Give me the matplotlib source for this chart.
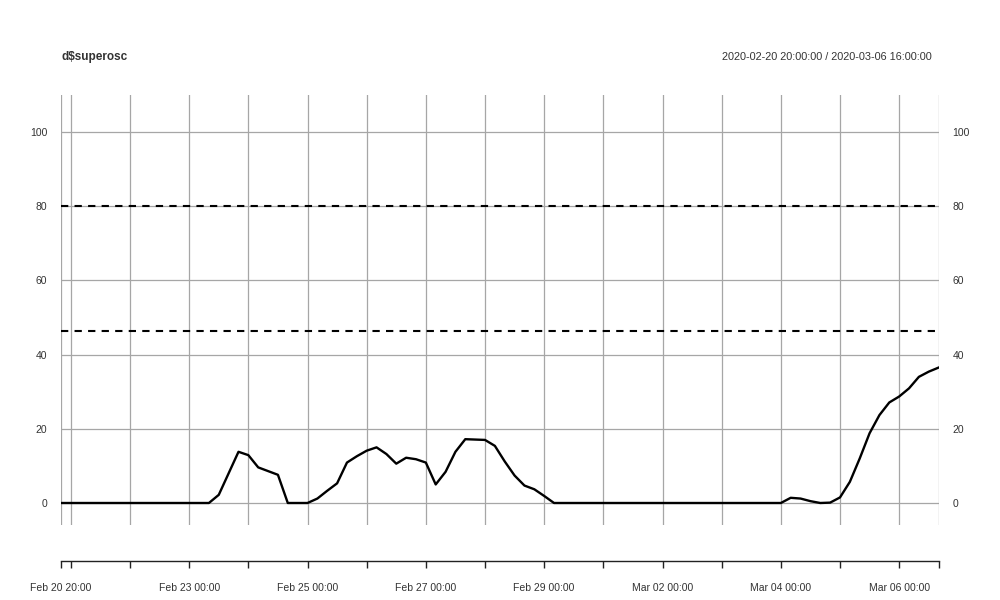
import matplotlib
matplotlib.use('Agg')
import matplotlib.pyplot as plt
import matplotlib.dates as mdates
import pandas as pd
import numpy as np

plt.rcParams['font.family'] = ['Liberation Sans', 'DejaVu Sans']

# 4-hourly series, 2020-02-20 20:00 -> 2020-03-06 16:00
times = pd.date_range('2020-02-20 20:00', '2020-03-06 16:00', freq='4h')
superosc = ([0.0] * 16 +
            [2.2, 8.0, 13.8, 12.9, 9.6, 8.6, 7.6, 0.0, 0.0, 0.0,
             1.2, 3.3, 5.3, 10.9, 12.6, 14.1, 15.0, 13.2, 10.6, 12.2,
             11.8, 10.9, 5.0, 8.4, 13.8, 17.2, 17.1, 17.0, 15.4, 11.2,
             7.4, 4.7, 3.7, 1.9] +
            [0.0] * 24 +
            [1.4, 1.2, 0.5, 0.0, 0.1, 1.5, 5.7, 12.0, 18.8, 23.7,
             27.1, 28.7, 30.9, 34.0, 35.4, 36.5])
levels = [80, 46.4]
y_ticks = [0, 20, 40, 60, 80, 100]

title = 'd$superosc'
range_label = '2020-02-20 20:00:00 / 2020-03-06 16:00:00'

grid_col = '#a6a6a6'
text_col = '#333333'

# vertical grid / tick positions: first obs, every midnight, last obs
grid_times = [times[0]] + list(pd.date_range('2020-02-21', '2020-03-06', freq='D')) + [times[-1]]
label_times = [times[0]] + list(pd.date_range('2020-02-23', '2020-03-06', freq='2D'))


def fmt(t):
    return t.strftime('%b %d %H:%M')


fig = plt.figure(figsize=(10, 6), dpi=100)
W, H = 1000, 600
left, right = 61, 938.6
top, bottom = 95, 525

ax = fig.add_axes([left / W, 1 - bottom / H, (right - left) / W, (bottom - top) / H])
ax.plot(times, superosc, color='black', lw=1.7, zorder=3)
for lv in levels:
    ax.axhline(lv, color='black', lw=1.5, dashes=(3.5, 3), zorder=2)

ax.set_xlim(times[0], times[-1])
ax.set_ylim(-5.93, 109.97)
for s in ax.spines.values():
    s.set_visible(False)

for t in grid_times:
    ax.axvline(t, color=grid_col, lw=0.9, zorder=1)
for y in y_ticks:
    ax.axhline(y, color=grid_col, lw=0.9, zorder=1)

ax.set_xticks([])
ax.set_yticks(y_ticks)
ax.tick_params(axis='y', length=0, labelsize=7.5, labelcolor=text_col, pad=10,
               labelleft=True, labelright=True)

# separate x axis below the panel
axb = fig.add_axes([left / W, 1 - 561 / H, (right - left) / W, 0.0001])
axb.set_xlim(mdates.date2num(times[0]), mdates.date2num(times[-1]))
axb.set_facecolor('none')
for k in ['top', 'left', 'right']:
    axb.spines[k].set_visible(False)
axb.spines['bottom'].set_color('#222222')
axb.spines['bottom'].set_linewidth(1.0)
axb.set_yticks([])
tick_pos = [mdates.date2num(t) for t in grid_times]
tick_lab = [fmt(t) if t in label_times else '' for t in grid_times]
axb.set_xticks(tick_pos)
axb.set_xticklabels(tick_lab)
axb.tick_params(axis='x', direction='out', length=5, width=1.0, color='#222222',
                labelsize=7.5, labelcolor=text_col, pad=11)

fig.text(left / W, 1 - 57 / H, title, fontsize=8.5, fontweight='bold',
         color=text_col, ha='left', va='center')
fig.text(932 / W, 1 - 57 / H, range_label, fontsize=7.8, color=text_col,
         ha='right', va='center')

fig.savefig('out.png', dpi=100)
